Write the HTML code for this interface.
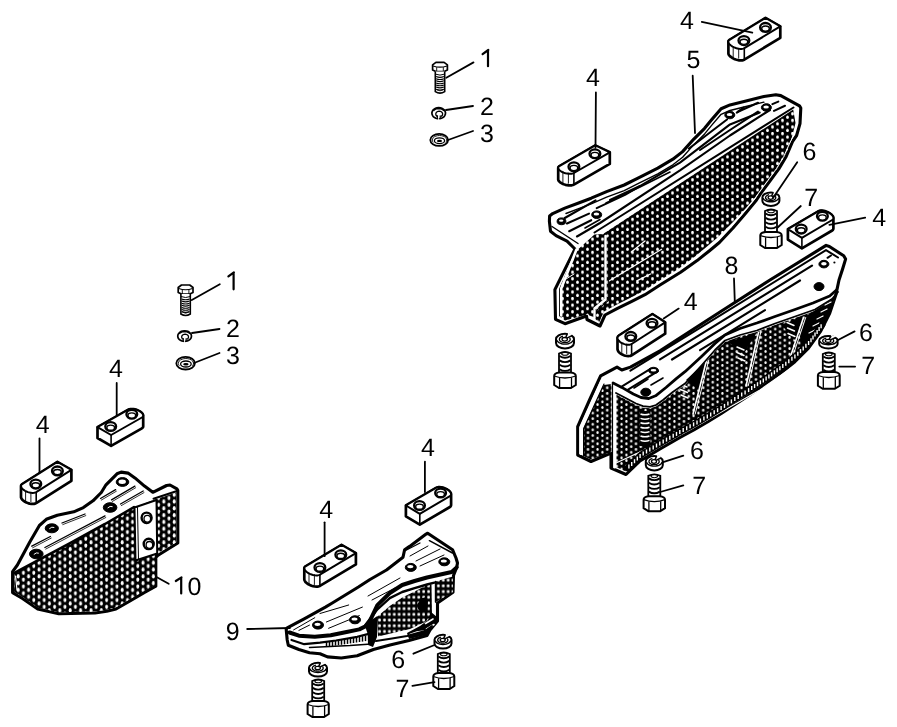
<!DOCTYPE html>
<html><head><meta charset="utf-8"><style>
html,body{margin:0;padding:0;background:#fff;overflow:hidden;width:897px;height:727px;}
svg{display:block}
text{font-family:"Liberation Sans",sans-serif;font-size:25px;fill:#000}
.t{opacity:0.999}
svg text{text-rendering:geometricPrecision}
</style></head><body>
<svg width="897" height="727" viewBox="0 0 897 727">
<defs>
<pattern id="mesh" width="10" height="6.6" patternUnits="userSpaceOnUse">
<rect width="10" height="6.6" fill="#000"/><ellipse cx="2.5" cy="1.65" rx="1.35" ry="1.75" fill="#fff"/><ellipse cx="7.5" cy="4.95" rx="1.35" ry="1.75" fill="#fff"/><ellipse cx="7.5" cy="-1.65" rx="1.35" ry="1.75" fill="#fff"/><ellipse cx="2.5" cy="8.25" rx="1.35" ry="1.75" fill="#fff"/></pattern>
<pattern id="mesh2" width="10.4" height="6.8" patternUnits="userSpaceOnUse">
<rect width="10.4" height="6.8" fill="#000"/><ellipse cx="2.6" cy="1.7" rx="1.45" ry="2.1" fill="#fff"/><ellipse cx="7.8" cy="5.1" rx="1.45" ry="2.1" fill="#fff"/><ellipse cx="7.8" cy="-1.7" rx="1.45" ry="2.1" fill="#fff"/><ellipse cx="2.6" cy="8.5" rx="1.45" ry="2.1" fill="#fff"/></pattern>
<pattern id="mesh3" width="9.6" height="5.6" patternUnits="userSpaceOnUse">
<rect width="9.6" height="5.6" fill="#000"/><ellipse cx="2.4" cy="1.4" rx="1.15" ry="1.45" fill="#fff"/><ellipse cx="7.2" cy="4.2" rx="1.15" ry="1.45" fill="#fff"/><ellipse cx="7.2" cy="-1.4" rx="1.15" ry="1.45" fill="#fff"/><ellipse cx="2.4" cy="7" rx="1.15" ry="1.45" fill="#fff"/></pattern>
<pattern id="grid" width="4.9" height="5.7" patternUnits="userSpaceOnUse" patternTransform="translate(377 583)">
<rect width="4.9" height="5.7" fill="#000"/><rect x="1.3" y="1.4" width="2.5" height="2.8" rx="0.6" fill="#fff"/></pattern>
<filter id="nf" x="0" y="0" width="1" height="1"><feColorMatrix type="identity"/></filter>
</defs>
<rect width="897" height="727" fill="#fff"/>
<polygon points="549.4,221.3 549.6,216.0 552.7,213.6 564.8,208.1 578.0,203.2 591.2,198.2 606.6,191.6 624.2,185.0 638.5,177.8 657.8,168.2 672.9,159.2 682.6,151.6 693.6,139.3 704.6,128.3 711.6,119.8 721.1,108.7 730.0,104.9 747.0,100.7 763.9,96.5 775.8,94.8 780.8,95.6 799.5,105.8 800.8,108.0 800.0,123.6 796.6,135.5 792.8,141.0 786.2,156.5 778.8,168.9 769.7,181.3 760.6,193.6 756.5,200.0 745.0,214.0 733.0,228.0 719.4,242.5 709.5,250.7 697.1,260.6 680.6,272.2 660.0,285.0 645.0,294.7 631.3,301.6 617.5,308.4 605.0,315.0 600.0,326.0 587.0,319.5 586.5,316.0 565.0,323.7 555.5,319.3 554.9,289.6 575.0,249.0 567.0,241.1 556.0,235.6 550.5,231.2" fill="#fff" stroke="#000" stroke-width="3.1" stroke-linejoin="round" />
<polygon points="579.0,248.5 594.5,234.5 603.0,234.0 793.2,109.5 795.5,123.0 792.5,135.0 789.0,147.0 783.5,158.0 776.0,170.0 767.0,182.0 758.0,194.0 746.0,208.0 733.0,222.0 717.0,238.0 707.0,246.5 695.0,256.5 679.0,268.5 659.0,281.0 644.0,290.8 630.5,297.8 617.0,304.6 604.0,311.5 599.0,322.5 593.4,317.0 587.0,314.5 565.0,320.5 559.0,316.0 559.0,289.0 576.0,250.0" fill="url(#mesh)" stroke="none" stroke-width="0" stroke-linejoin="round" />
<polyline points="609.0,281.0 661.6,249.3" fill="none" stroke="#fff" stroke-width="1.2" stroke-linejoin="round" stroke-linecap="round" />
<polyline points="631.3,252.0 645.0,241.0" fill="none" stroke="#fff" stroke-width="1.3" stroke-linejoin="round" stroke-linecap="round" />
<polyline points="636.8,280.9 650.5,274.0" fill="none" stroke="#fff" stroke-width="1.3" stroke-linejoin="round" stroke-linecap="round" />
<polyline points="566.0,279.0 574.0,274.0" fill="none" stroke="#fff" stroke-width="1.0" stroke-linejoin="round" stroke-linecap="round" />
<polyline points="576.5,249.5 561.2,288.5 561.2,315.5" fill="none" stroke="#fff" stroke-width="2.6" stroke-linejoin="round" stroke-linecap="round" />
<polyline points="605.5,236.0 605.5,299.5 594.5,308.5 594.5,318.0" fill="none" stroke="#fff" stroke-width="2.4" stroke-linejoin="round" stroke-linecap="round" />
<polyline points="608.3,237.0 608.3,300.5 597.0,310.0" fill="none" stroke="#000" stroke-width="1.2" stroke-linejoin="round" stroke-linecap="round" />
<polyline points="795.3,111.0 797.2,123.3 793.8,135.3 790.2,142.0 783.7,156.6 776.5,168.5 767.6,180.7 758.6,193.0 754.5,199.3 743.5,212.5 731.5,226.3 718.0,240.4 708.2,248.3 695.8,258.4 679.4,269.9 659.0,282.3 644.0,292.0" fill="none" stroke="#fff" stroke-width="1.0" stroke-linejoin="round" stroke-linecap="round" />
<polyline points="552.0,226.5 578.0,243.5" fill="none" stroke="#000" stroke-width="1.4" stroke-linejoin="round" stroke-linecap="round" />
<polyline points="594.5,232.5 793.5,107.5" fill="none" stroke="#000" stroke-width="2.0" stroke-linejoin="round" stroke-linecap="round" />
<polyline points="577.0,236.5 600.0,223.0 680.0,170.3 730.0,135.5 770.0,110.0" fill="none" stroke="#000" stroke-width="2.1" stroke-linejoin="round" stroke-linecap="round" />
<polyline points="596.7,208.1 625.0,194.9 680.0,162.7 730.0,124.4 759.7,112.6" fill="none" stroke="#000" stroke-width="2.1" stroke-linejoin="round" stroke-linecap="round" />
<polyline points="700.0,150.0 730.0,130.0 758.0,111.7" fill="none" stroke="#000" stroke-width="2.1" stroke-linejoin="round" stroke-linecap="round" />
<polyline points="569.2,231.2 591.2,220.2" fill="none" stroke="#000" stroke-width="2.1" stroke-linejoin="round" stroke-linecap="round" />
<polyline points="567.0,223.5 589.0,213.6" fill="none" stroke="#000" stroke-width="2.1" stroke-linejoin="round" stroke-linecap="round" />
<polyline points="564.8,218.0 595.6,200.4" fill="none" stroke="#000" stroke-width="2.1" stroke-linejoin="round" stroke-linecap="round" />
<polyline points="689.0,148.5 727.0,119.5" fill="none" stroke="#000" stroke-width="2.1" stroke-linejoin="round" stroke-linecap="round" />
<polyline points="738.0,111.7 758.0,102.8" fill="none" stroke="#000" stroke-width="2.1" stroke-linejoin="round" stroke-linecap="round" />
<polyline points="736.8,112.6 743.6,107.5" fill="none" stroke="#000" stroke-width="2.1" stroke-linejoin="round" stroke-linecap="round" />
<polyline points="774.0,110.9 785.0,105.8" fill="none" stroke="#000" stroke-width="2.1" stroke-linejoin="round" stroke-linecap="round" />
<polyline points="772.4,104.1 778.3,101.6" fill="none" stroke="#000" stroke-width="2.1" stroke-linejoin="round" stroke-linecap="round" />
<polyline points="610.0,200.0 640.0,186.0" fill="none" stroke="#000" stroke-width="2.1" stroke-linejoin="round" stroke-linecap="round" />
<polyline points="566.0,213.5 578.0,208.8 591.2,203.8 606.6,197.2 624.2,190.6 638.5,183.4 657.8,173.8 672.9,164.8 682.6,157.2 693.6,144.9 704.6,133.9 711.6,125.4 721.1,114.3 730.0,110.5 747.0,106.3 763.9,102.1" fill="none" stroke="#000" stroke-width="1.4" stroke-linejoin="round" stroke-linecap="round" />
<polyline points="606.0,203.0 640.0,187.0 670.0,172.0" fill="none" stroke="#000" stroke-width="1.6" stroke-linejoin="round" stroke-linecap="round" />
<polyline points="585.0,228.0 600.0,219.5" fill="none" stroke="#000" stroke-width="1.6" stroke-linejoin="round" stroke-linecap="round" />
<ellipse cx="561.5" cy="221.3" rx="4.4" ry="3.4" fill="#000" stroke="#000" stroke-width="1" transform="rotate(0 561.5 221.3)"/>
<ellipse cx="561.2" cy="220.70000000000002" rx="2.2" ry="1.1" fill="#fff" stroke="none" stroke-width="0" transform="rotate(0 561.2 220.70000000000002)"/>
<ellipse cx="596.7" cy="214.7" rx="5" ry="3.8" fill="#000" stroke="#000" stroke-width="1" transform="rotate(0 596.7 214.7)"/>
<ellipse cx="596.4000000000001" cy="214.1" rx="2.8" ry="1.5" fill="#fff" stroke="none" stroke-width="0" transform="rotate(0 596.4000000000001 214.1)"/>
<ellipse cx="729.8" cy="115" rx="5" ry="3.8" fill="#000" stroke="#000" stroke-width="1" transform="rotate(0 729.8 115)"/>
<ellipse cx="729.5" cy="114.4" rx="2.8" ry="1.5" fill="#fff" stroke="none" stroke-width="0" transform="rotate(0 729.5 114.4)"/>
<ellipse cx="766.4" cy="107.5" rx="5" ry="3.8" fill="#000" stroke="#000" stroke-width="1" transform="rotate(0 766.4 107.5)"/>
<ellipse cx="766.1" cy="106.9" rx="2.8" ry="1.5" fill="#fff" stroke="none" stroke-width="0" transform="rotate(0 766.1 106.9)"/>
<polygon points="600.6,375.8 617.0,367.1 621.8,370.0 630.4,367.1 660.0,350.8 720.0,312.0 770.0,280.0 826.1,245.4 829.4,246.5 843.7,255.8 845.6,259.1 842.6,269.0 839.0,280.0 835.8,295.1 829.7,313.3 820.6,331.4 808.5,348.1 794.9,361.7 779.8,373.8 763.2,385.9 748.8,395.5 735.0,404.5 721.3,413.5 707.5,422.0 693.8,430.0 680.0,437.5 660.0,449.0 640.0,461.0 626.0,474.5 611.0,468.0 611.0,453.0 591.0,461.5 577.7,455.0 577.7,426.6 590.0,399.0" fill="#fff" stroke="#000" stroke-width="3.1" stroke-linejoin="round" />
<polygon points="616.0,394.5 625.6,399.5 636.0,405.0 643.0,407.7 650.0,408.3 656.0,406.5 663.0,401.5 672.8,393.5 685.0,385.0 701.0,367.5 715.0,351.5 725.0,342.0 740.0,336.5 756.8,332.0 775.0,325.0 795.0,318.0 815.0,311.0 832.0,300.5 838.0,293.5 834.0,300.0 828.0,314.0 819.0,331.0 807.5,347.0 794.0,360.0 779.0,372.0 762.5,384.0 748.0,393.5 734.5,402.5 721.0,411.5 707.0,420.0 693.5,428.0 680.0,435.5 660.0,447.0 640.0,459.0 626.0,471.5 616.0,467.0 616.0,396.0" fill="url(#mesh3)" stroke="none" stroke-width="0" stroke-linejoin="round" />
<polygon points="686.0,380.0 706.0,361.6 699.0,390.0" fill="#000" stroke="none" stroke-width="0" stroke-linejoin="round" />
<polygon points="728.0,342.0 756.8,332.5 744.0,353.0" fill="#000" stroke="none" stroke-width="0" stroke-linejoin="round" />
<polygon points="781.0,324.5 803.0,317.5 795.0,340.0" fill="#000" stroke="none" stroke-width="0" stroke-linejoin="round" />
<polygon points="805.0,316.5 830.0,301.0 836.0,295.0 830.0,312.0 821.0,329.0 810.0,345.0 802.0,352.0 800.0,336.0" fill="#000" stroke="none" stroke-width="0" stroke-linejoin="round" />
<polyline points="706.6,360.0 693.0,414.0" fill="none" stroke="#fff" stroke-width="1.6" stroke-linejoin="round" stroke-linecap="round" />
<polyline points="708.8,360.0 695.2,414.0" fill="none" stroke="#fff" stroke-width="1.0" stroke-linejoin="round" stroke-linecap="round" />
<polyline points="758.5,332.5 746.0,386.0" fill="none" stroke="#fff" stroke-width="1.6" stroke-linejoin="round" stroke-linecap="round" />
<polyline points="760.7,332.5 748.2,386.0" fill="none" stroke="#fff" stroke-width="1.0" stroke-linejoin="round" stroke-linecap="round" />
<polyline points="803.5,317.5 790.0,358.0" fill="none" stroke="#fff" stroke-width="1.6" stroke-linejoin="round" stroke-linecap="round" />
<polyline points="805.7,317.5 792.2,358.0" fill="none" stroke="#fff" stroke-width="1.0" stroke-linejoin="round" stroke-linecap="round" />
<polyline points="616.0,463.0 640.0,452.0 700.0,424.0 760.0,390.0 800.0,362.0 830.0,330.0" fill="none" stroke="#fff" stroke-width="1.2" stroke-linejoin="round" stroke-linecap="round" />
<polyline points="737.0,347.0 744.0,350.0" fill="none" stroke="#fff" stroke-width="1.5" stroke-linejoin="round" stroke-linecap="round" />
<polyline points="737.0,352.5 744.0,355.5" fill="none" stroke="#fff" stroke-width="1.5" stroke-linejoin="round" stroke-linecap="round" />
<polyline points="738.0,358.0 745.0,361.0" fill="none" stroke="#fff" stroke-width="1.5" stroke-linejoin="round" stroke-linecap="round" />
<polyline points="787.0,322.5 794.0,325.5" fill="none" stroke="#fff" stroke-width="1.5" stroke-linejoin="round" stroke-linecap="round" />
<polyline points="787.5,328.0 794.5,331.0" fill="none" stroke="#fff" stroke-width="1.5" stroke-linejoin="round" stroke-linecap="round" />
<polyline points="788.0,333.5 795.0,336.5" fill="none" stroke="#fff" stroke-width="1.5" stroke-linejoin="round" stroke-linecap="round" />
<polyline points="680.0,384.0 687.0,387.0" fill="none" stroke="#fff" stroke-width="1.5" stroke-linejoin="round" stroke-linecap="round" />
<polyline points="680.5,389.5 687.5,392.5" fill="none" stroke="#fff" stroke-width="1.5" stroke-linejoin="round" stroke-linecap="round" />
<polyline points="681.0,395.0 688.0,398.0" fill="none" stroke="#fff" stroke-width="1.5" stroke-linejoin="round" stroke-linecap="round" />
<polyline points="809.0,333.0 815.0,330.0" fill="none" stroke="#fff" stroke-width="1.2" stroke-linejoin="round" stroke-linecap="round" />
<polyline points="813.0,326.0 819.0,323.0" fill="none" stroke="#fff" stroke-width="1.2" stroke-linejoin="round" stroke-linecap="round" />
<polyline points="817.0,319.0 823.0,316.0" fill="none" stroke="#fff" stroke-width="1.2" stroke-linejoin="round" stroke-linecap="round" />
<polyline points="821.0,312.0 827.0,309.0" fill="none" stroke="#fff" stroke-width="1.2" stroke-linejoin="round" stroke-linecap="round" />
<polyline points="825.0,305.0 831.0,302.0" fill="none" stroke="#fff" stroke-width="1.2" stroke-linejoin="round" stroke-linecap="round" />
<rect x="639.5" y="411" width="11" height="35" fill="#000"/>
<path d="M640.5,414.0 Q645,415.6 649.5,414.0" fill="none" stroke="#fff" stroke-width="1.5"/>
<path d="M640.5,418.4 Q645,420.0 649.5,418.4" fill="none" stroke="#fff" stroke-width="1.5"/>
<path d="M640.5,422.8 Q645,424.4 649.5,422.8" fill="none" stroke="#fff" stroke-width="1.5"/>
<path d="M640.5,427.2 Q645,428.8 649.5,427.2" fill="none" stroke="#fff" stroke-width="1.5"/>
<path d="M640.5,431.6 Q645,433.2 649.5,431.6" fill="none" stroke="#fff" stroke-width="1.5"/>
<path d="M640.5,436.0 Q645,437.6 649.5,436.0" fill="none" stroke="#fff" stroke-width="1.5"/>
<path d="M640.5,440.4 Q645,442.0 649.5,440.4" fill="none" stroke="#fff" stroke-width="1.5"/>
<polygon points="583.6,428.0 603.5,385.0 611.5,384.0 611.5,452.0 591.0,459.5 583.6,456.0" fill="url(#mesh3)" stroke="none" stroke-width="0" stroke-linejoin="round" />
<polyline points="601.8,381.5 581.0,428.0 581.0,453.5" fill="none" stroke="#fff" stroke-width="3.2" stroke-linejoin="round" stroke-linecap="round" />
<polyline points="604.0,384.0 583.6,428.8 583.6,455.5" fill="none" stroke="#000" stroke-width="1.2" stroke-linejoin="round" stroke-linecap="round" />
<polyline points="614.6,385.0 614.6,466.5" fill="none" stroke="#fff" stroke-width="3.8" stroke-linejoin="round" stroke-linecap="round" />
<polyline points="612.5,384.0 612.5,468.0" fill="none" stroke="#000" stroke-width="1.2" stroke-linejoin="round" stroke-linecap="round" />
<polyline points="613.1,383.0 621.8,387.4 633.3,394.0 641.0,397.5 648.8,398.5 655.6,395.8 666.0,387.5 676.3,378.6 685.0,371.7 701.0,357.0 715.0,343.5 725.0,335.0 740.0,328.5 756.8,323.0 775.0,316.5 795.0,309.5 813.0,303.0 829.7,296.0 836.5,290.0" fill="none" stroke="#000" stroke-width="2.8" stroke-linejoin="round" stroke-linecap="round" />
<polyline points="616.0,393.0 625.6,398.0 636.0,403.5 643.0,406.2 650.0,406.8 656.0,405.0 663.0,400.0 672.8,392.0 685.0,383.5 701.0,366.0 715.0,350.0 725.0,340.5 740.0,335.0 756.8,330.5 775.0,323.5 795.0,316.5 815.0,309.5 832.0,299.0 838.0,292.0" fill="none" stroke="#000" stroke-width="1.8" stroke-linejoin="round" stroke-linecap="round" />
<polyline points="630.4,370.7 700.0,327.8 826.0,250.1 838.0,257.5" fill="none" stroke="#000" stroke-width="2.0" stroke-linejoin="round" stroke-linecap="round" />
<polyline points="660.0,359.4 812.0,265.6" fill="none" stroke="#000" stroke-width="2.2" stroke-linejoin="round" stroke-linecap="round" />
<polyline points="672.0,359.5 800.0,280.5" fill="none" stroke="#000" stroke-width="2.2" stroke-linejoin="round" stroke-linecap="round" />
<polyline points="700.0,350.2 765.0,310.1" fill="none" stroke="#000" stroke-width="2.0" stroke-linejoin="round" stroke-linecap="round" />
<polyline points="622.0,386.3 650.0,369.1" fill="none" stroke="#000" stroke-width="2.0" stroke-linejoin="round" stroke-linecap="round" />
<polyline points="628.0,389.6 658.0,371.1" fill="none" stroke="#000" stroke-width="2.0" stroke-linejoin="round" stroke-linecap="round" />
<polyline points="634.0,388.0 648.0,379.0" fill="none" stroke="#000" stroke-width="1.6" stroke-linejoin="round" stroke-linecap="round" />
<polyline points="827.5,257.8 831.0,255.5" fill="none" stroke="#000" stroke-width="2.0" stroke-linejoin="round" stroke-linecap="round" />
<ellipse cx="834.4" cy="262.4" rx="1.1" ry="1.0" fill="#000" stroke="none" stroke-width="0" transform="rotate(0 834.4 262.4)"/>
<polyline points="651.0,385.0 663.0,378.0" fill="none" stroke="#000" stroke-width="1.6" stroke-linejoin="round" stroke-linecap="round" />
<ellipse cx="823.9" cy="264.1" rx="5" ry="3.8" fill="#000" stroke="#000" stroke-width="1" transform="rotate(0 823.9 264.1)"/>
<ellipse cx="823.9" cy="263.8" rx="2.8" ry="1.7999999999999998" fill="#fff" stroke="none" stroke-width="0" transform="rotate(0 823.9 263.8)"/>
<ellipse cx="819" cy="286.6" rx="5" ry="4" fill="#000" stroke="#000" stroke-width="1" transform="rotate(0 819 286.6)"/>
<ellipse cx="653.5" cy="370.5" rx="5" ry="3.2" fill="#000" stroke="#000" stroke-width="1" transform="rotate(0 653.5 370.5)"/>
<ellipse cx="653.5" cy="370.2" rx="2.8" ry="1.2000000000000002" fill="#fff" stroke="none" stroke-width="0" transform="rotate(0 653.5 370.2)"/>
<ellipse cx="645.8" cy="392.2" rx="5" ry="4" fill="#000" stroke="#000" stroke-width="1" transform="rotate(0 645.8 392.2)"/>
<polyline points="627.5,468.0 641.5,454.5 661.5,442.5 681.5,431.0 695.3,423.5 709.0,415.5 722.8,407.0 736.5,398.0 750.3,389.0 764.7,379.4 781.3,367.3 796.4,355.2 810.0,341.6 822.1,324.9" fill="none" stroke="#000" stroke-width="6.5" stroke-linejoin="round" stroke-linecap="round" />
<line x1="628.9" y1="464.6" x2="628.9" y2="468.6" stroke="#fff" stroke-width="1.4"/>
<line x1="631.7" y1="461.9" x2="631.7" y2="465.9" stroke="#fff" stroke-width="1.4"/>
<line x1="634.5" y1="459.2" x2="634.5" y2="463.2" stroke="#fff" stroke-width="1.4"/>
<line x1="637.3" y1="456.6" x2="637.3" y2="460.6" stroke="#fff" stroke-width="1.4"/>
<line x1="640.1" y1="453.9" x2="640.1" y2="457.9" stroke="#fff" stroke-width="1.4"/>
<line x1="643.2" y1="451.5" x2="643.2" y2="455.5" stroke="#fff" stroke-width="1.4"/>
<line x1="646.5" y1="449.5" x2="646.5" y2="453.5" stroke="#fff" stroke-width="1.4"/>
<line x1="649.8" y1="447.5" x2="649.8" y2="451.5" stroke="#fff" stroke-width="1.4"/>
<line x1="653.2" y1="445.5" x2="653.2" y2="449.5" stroke="#fff" stroke-width="1.4"/>
<line x1="656.5" y1="443.5" x2="656.5" y2="447.5" stroke="#fff" stroke-width="1.4"/>
<line x1="659.8" y1="441.5" x2="659.8" y2="445.5" stroke="#fff" stroke-width="1.4"/>
<line x1="663.2" y1="439.5" x2="663.2" y2="443.5" stroke="#fff" stroke-width="1.4"/>
<line x1="666.5" y1="437.6" x2="666.5" y2="441.6" stroke="#fff" stroke-width="1.4"/>
<line x1="669.8" y1="435.7" x2="669.8" y2="439.7" stroke="#fff" stroke-width="1.4"/>
<line x1="673.2" y1="433.8" x2="673.2" y2="437.8" stroke="#fff" stroke-width="1.4"/>
<line x1="676.5" y1="431.9" x2="676.5" y2="435.9" stroke="#fff" stroke-width="1.4"/>
<line x1="679.8" y1="430.0" x2="679.8" y2="434.0" stroke="#fff" stroke-width="1.4"/>
<line x1="683.2" y1="428.1" x2="683.2" y2="432.1" stroke="#fff" stroke-width="1.4"/>
<line x1="686.7" y1="426.2" x2="686.7" y2="430.2" stroke="#fff" stroke-width="1.4"/>
<line x1="690.1" y1="424.3" x2="690.1" y2="428.3" stroke="#fff" stroke-width="1.4"/>
<line x1="693.6" y1="422.4" x2="693.6" y2="426.4" stroke="#fff" stroke-width="1.4"/>
<line x1="697.0" y1="420.5" x2="697.0" y2="424.5" stroke="#fff" stroke-width="1.4"/>
<line x1="700.4" y1="418.5" x2="700.4" y2="422.5" stroke="#fff" stroke-width="1.4"/>
<line x1="703.9" y1="416.5" x2="703.9" y2="420.5" stroke="#fff" stroke-width="1.4"/>
<line x1="707.3" y1="414.5" x2="707.3" y2="418.5" stroke="#fff" stroke-width="1.4"/>
<line x1="710.7" y1="412.4" x2="710.7" y2="416.4" stroke="#fff" stroke-width="1.4"/>
<line x1="714.2" y1="410.3" x2="714.2" y2="414.3" stroke="#fff" stroke-width="1.4"/>
<line x1="717.6" y1="408.2" x2="717.6" y2="412.2" stroke="#fff" stroke-width="1.4"/>
<line x1="721.1" y1="406.1" x2="721.1" y2="410.1" stroke="#fff" stroke-width="1.4"/>
<line x1="724.5" y1="403.9" x2="724.5" y2="407.9" stroke="#fff" stroke-width="1.4"/>
<line x1="727.9" y1="401.6" x2="727.9" y2="405.6" stroke="#fff" stroke-width="1.4"/>
<line x1="731.4" y1="399.4" x2="731.4" y2="403.4" stroke="#fff" stroke-width="1.4"/>
<line x1="734.8" y1="397.1" x2="734.8" y2="401.1" stroke="#fff" stroke-width="1.4"/>
<line x1="738.2" y1="394.9" x2="738.2" y2="398.9" stroke="#fff" stroke-width="1.4"/>
<line x1="741.7" y1="392.6" x2="741.7" y2="396.6" stroke="#fff" stroke-width="1.4"/>
<line x1="745.1" y1="390.4" x2="745.1" y2="394.4" stroke="#fff" stroke-width="1.4"/>
<line x1="748.6" y1="388.1" x2="748.6" y2="392.1" stroke="#fff" stroke-width="1.4"/>
<line x1="751.7" y1="386.0" x2="751.7" y2="390.0" stroke="#fff" stroke-width="1.4"/>
<line x1="754.6" y1="384.1" x2="754.6" y2="388.1" stroke="#fff" stroke-width="1.4"/>
<line x1="757.5" y1="382.2" x2="757.5" y2="386.2" stroke="#fff" stroke-width="1.4"/>
<line x1="760.4" y1="380.3" x2="760.4" y2="384.3" stroke="#fff" stroke-width="1.4"/>
<line x1="763.3" y1="378.4" x2="763.3" y2="382.4" stroke="#fff" stroke-width="1.4"/>
<line x1="766.1" y1="376.4" x2="766.1" y2="380.4" stroke="#fff" stroke-width="1.4"/>
<line x1="768.9" y1="374.4" x2="768.9" y2="378.4" stroke="#fff" stroke-width="1.4"/>
<line x1="771.6" y1="372.4" x2="771.6" y2="376.4" stroke="#fff" stroke-width="1.4"/>
<line x1="774.4" y1="370.3" x2="774.4" y2="374.3" stroke="#fff" stroke-width="1.4"/>
<line x1="777.1" y1="368.3" x2="777.1" y2="372.3" stroke="#fff" stroke-width="1.4"/>
<line x1="779.9" y1="366.3" x2="779.9" y2="370.3" stroke="#fff" stroke-width="1.4"/>
<line x1="782.8" y1="364.1" x2="782.8" y2="368.1" stroke="#fff" stroke-width="1.4"/>
<line x1="785.8" y1="361.7" x2="785.8" y2="365.7" stroke="#fff" stroke-width="1.4"/>
<line x1="788.8" y1="359.2" x2="788.8" y2="363.2" stroke="#fff" stroke-width="1.4"/>
<line x1="791.9" y1="356.8" x2="791.9" y2="360.8" stroke="#fff" stroke-width="1.4"/>
<line x1="794.9" y1="354.4" x2="794.9" y2="358.4" stroke="#fff" stroke-width="1.4"/>
<line x1="797.8" y1="351.8" x2="797.8" y2="355.8" stroke="#fff" stroke-width="1.4"/>
<line x1="800.5" y1="349.1" x2="800.5" y2="353.1" stroke="#fff" stroke-width="1.4"/>
<line x1="803.2" y1="346.4" x2="803.2" y2="350.4" stroke="#fff" stroke-width="1.4"/>
<line x1="805.9" y1="343.7" x2="805.9" y2="347.7" stroke="#fff" stroke-width="1.4"/>
<line x1="808.6" y1="341.0" x2="808.6" y2="345.0" stroke="#fff" stroke-width="1.4"/>
<line x1="811.0" y1="338.2" x2="811.0" y2="342.2" stroke="#fff" stroke-width="1.4"/>
<line x1="813.0" y1="335.4" x2="813.0" y2="339.4" stroke="#fff" stroke-width="1.4"/>
<line x1="815.0" y1="332.6" x2="815.0" y2="336.6" stroke="#fff" stroke-width="1.4"/>
<line x1="817.1" y1="329.9" x2="817.1" y2="333.9" stroke="#fff" stroke-width="1.4"/>
<line x1="819.1" y1="327.1" x2="819.1" y2="331.1" stroke="#fff" stroke-width="1.4"/>
<line x1="821.1" y1="324.3" x2="821.1" y2="328.3" stroke="#fff" stroke-width="1.4"/>
<polygon points="12.6,571.6 17.4,565.0 29.8,542.0 39.4,525.5 46.3,519.3 57.3,515.2 73.8,511.8 83.4,507.6 93.0,500.8 101.3,492.5 106.0,484.8 117.0,473.8 121.1,472.1 128.0,473.1 134.9,477.9 144.5,486.1 152.8,492.3 166.6,485.5 170.0,485.0 176.9,488.9 177.8,490.3 177.8,543.0 158.1,555.2 155.8,557.5 155.8,586.2 144.1,592.6 130.0,600.8 116.0,609.0 106.7,611.3 95.0,613.0 58.8,613.7 37.7,609.0 22.5,598.5 12.6,592.6" fill="#fff" stroke="#000" stroke-width="3.1" stroke-linejoin="round" />
<polygon points="14.5,573.5 70.5,543.3 105.0,524.5 134.0,507.5 155.0,499.5 176.2,492.5 176.2,542.5 157.0,553.5 154.5,585.5 143.5,591.5 129.5,599.5 115.5,607.5 106.5,609.8 95.0,611.5 58.8,612.2 38.0,607.7 23.0,597.3 14.0,591.8" fill="url(#mesh2)" stroke="none" stroke-width="0" stroke-linejoin="round" />
<polygon points="134.5,507.5 156.5,500.0 157.2,553.5 135.5,560.5" fill="#fff" stroke="#000" stroke-width="2.0" stroke-linejoin="round" />
<polyline points="137.5,507.5 138.5,559.0" fill="none" stroke="#000" stroke-width="1.0" stroke-linejoin="round" stroke-linecap="round" />
<ellipse cx="146.6" cy="517.8" rx="5.0" ry="5.2" fill="#fff" stroke="#000" stroke-width="2.4" transform="rotate(0 146.6 517.8)"/>
<ellipse cx="147.29999999999998" cy="518.8" rx="3.3" ry="3.4" fill="#fff" stroke="#000" stroke-width="1.3" transform="rotate(0 147.29999999999998 518.8)"/>
<ellipse cx="148.7" cy="543.9" rx="5.0" ry="5.2" fill="#fff" stroke="#000" stroke-width="2.4" transform="rotate(0 148.7 543.9)"/>
<ellipse cx="149.39999999999998" cy="544.9" rx="3.3" ry="3.4" fill="#fff" stroke="#000" stroke-width="1.3" transform="rotate(0 149.39999999999998 544.9)"/>
<polyline points="13.5,573.5 70.5,542.8 105.0,524.0 134.0,507.2" fill="none" stroke="#000" stroke-width="2.6" stroke-linejoin="round" stroke-linecap="round" />
<polyline points="153.5,498.7 177.0,491.0" fill="none" stroke="#000" stroke-width="2.0" stroke-linejoin="round" stroke-linecap="round" />
<polyline points="15.5,576.0 17.0,590.0" fill="none" stroke="#fff" stroke-width="1.2" stroke-linejoin="round" stroke-linecap="round" />
<polyline points="44.9,547.5 105.0,515.9" fill="none" stroke="#000" stroke-width="1.3" stroke-linejoin="round" stroke-linecap="round" />
<polyline points="45.7,549.1 105.8,517.5" fill="none" stroke="#000" stroke-width="0.8" stroke-linejoin="round" stroke-linecap="round" />
<polyline points="31.8,546.2 50.4,536.5" fill="none" stroke="#000" stroke-width="1.3" stroke-linejoin="round" stroke-linecap="round" />
<polyline points="32.6,547.8 51.2,538.1" fill="none" stroke="#000" stroke-width="0.8" stroke-linejoin="round" stroke-linecap="round" />
<polyline points="100.5,498.5 115.6,489.6" fill="none" stroke="#000" stroke-width="1.3" stroke-linejoin="round" stroke-linecap="round" />
<polyline points="101.3,500.1 116.4,491.2" fill="none" stroke="#000" stroke-width="0.8" stroke-linejoin="round" stroke-linecap="round" />
<polyline points="111.5,499.9 134.9,486.1" fill="none" stroke="#000" stroke-width="1.3" stroke-linejoin="round" stroke-linecap="round" />
<polyline points="112.3,501.5 135.7,487.7" fill="none" stroke="#000" stroke-width="0.8" stroke-linejoin="round" stroke-linecap="round" />
<polyline points="120.5,504.0 143.2,491.0" fill="none" stroke="#000" stroke-width="1.3" stroke-linejoin="round" stroke-linecap="round" />
<polyline points="121.3,505.6 144.0,492.6" fill="none" stroke="#000" stroke-width="0.8" stroke-linejoin="round" stroke-linecap="round" />
<polyline points="62.0,523.0 85.0,514.0" fill="none" stroke="#000" stroke-width="1.3" stroke-linejoin="round" stroke-linecap="round" />
<polyline points="62.8,524.6 85.8,515.6" fill="none" stroke="#000" stroke-width="0.8" stroke-linejoin="round" stroke-linecap="round" />
<ellipse cx="36.3" cy="554" rx="6.8" ry="4.8" fill="#000" stroke="#000" stroke-width="1" transform="rotate(0 36.3 554)"/>
<path d="M33.8,554.5 Q36.3,552.0 38.8,553.2" fill="none" stroke="#fff" stroke-width="1.0"/>
<ellipse cx="51.8" cy="528.3" rx="6.6" ry="4.5" fill="#000" stroke="#000" stroke-width="1" transform="rotate(0 51.8 528.3)"/>
<path d="M49.3,528.8 Q51.8,526.3 54.3,527.5" fill="none" stroke="#fff" stroke-width="1.0"/>
<ellipse cx="110.1" cy="507.5" rx="6.8" ry="4.8" fill="#000" stroke="#000" stroke-width="1" transform="rotate(0 110.1 507.5)"/>
<path d="M107.6,508.0 Q110.1,505.5 112.6,506.7" fill="none" stroke="#fff" stroke-width="1.0"/>
<ellipse cx="122.5" cy="482" rx="6.3" ry="4.4" fill="#000" stroke="#000" stroke-width="1" transform="rotate(0 122.5 482)"/>
<ellipse cx="122.2" cy="481.8" rx="3.6999999999999997" ry="2.2" fill="#fff" stroke="none" stroke-width="0" transform="rotate(0 122.2 481.8)"/>
<polygon points="287.2,627.8 304.2,618.8 325.4,607.1 332.3,603.0 358.4,587.0 370.0,579.5 386.5,570.0 403.0,557.2 404.6,549.7 409.6,546.4 426.1,534.1 427.7,533.2 452.5,549.7 456.0,558.0 457.5,563.0 456.7,567.4 453.5,575.5 453.0,592.2 437.5,603.0 437.5,621.0 430.0,630.0 427.0,635.6 409.0,640.5 390.0,645.0 373.4,649.5 357.2,655.8 341.3,658.0 327.5,656.9 320.0,653.7 309.5,652.7 298.9,649.5 288.3,645.3 287.2,640.0 286.2,629.4" fill="#fff" stroke="#000" stroke-width="3.1" stroke-linejoin="round" />
<polygon points="377.0,617.0 377.4,616.5 389.8,606.0 402.2,597.5 414.6,591.5 427.0,585.0 431.5,584.5 432.0,615.7 425.0,622.0 410.0,629.0 395.0,632.5 378.0,636.5" fill="url(#grid)" stroke="none" stroke-width="0" stroke-linejoin="round" />
<polygon points="435.6,581.5 453.0,576.6 453.0,592.2 435.6,602.1" fill="url(#grid)" stroke="none" stroke-width="0" stroke-linejoin="round" />
<polyline points="435.6,581.5 435.6,602.1" fill="none" stroke="#000" stroke-width="1.6" stroke-linejoin="round" stroke-linecap="round" />
<polygon points="417.5,604.0 421.0,598.5 426.0,597.0 428.0,601.0 427.5,611.0 421.0,612.0 418.0,609.0" fill="#000" stroke="none" stroke-width="0" stroke-linejoin="round" />
<polygon points="431.0,612.0 437.0,617.0 437.0,621.0 430.0,629.5 426.0,635.0 409.0,639.0 407.0,633.0 420.0,626.0 428.0,620.0" fill="#000" stroke="none" stroke-width="0" stroke-linejoin="round" />
<polyline points="425.5,623.5 433.0,619.0" fill="none" stroke="#fff" stroke-width="1.6" stroke-linejoin="round" stroke-linecap="round" />
<polyline points="426.5,629.0 434.0,624.5" fill="none" stroke="#fff" stroke-width="1.6" stroke-linejoin="round" stroke-linecap="round" />
<polyline points="410.0,634.5 417.0,632.0 424.0,631.0" fill="none" stroke="#fff" stroke-width="1.6" stroke-linejoin="round" stroke-linecap="round" />
<polygon points="365.0,626.0 369.9,621.0 377.4,616.0 377.0,637.0 373.0,647.0 368.0,645.0 367.7,634.0" fill="#000" stroke="none" stroke-width="0" stroke-linejoin="round" />
<polyline points="376.0,641.0 392.0,638.5 407.0,636.0 425.0,631.0 432.0,626.0" fill="none" stroke="#000" stroke-width="2.0" stroke-linejoin="round" stroke-linecap="round" />
<polyline points="289.5,632.5 298.9,635.7 314.8,636.8 330.7,635.2 346.6,632.0 359.3,629.4 365.6,626.2 369.9,620.9 377.4,605.1 389.8,593.0 402.2,585.0 414.6,581.0 427.0,577.5 439.3,574.8 451.7,572.0 456.7,567.4" fill="none" stroke="#000" stroke-width="4.0" stroke-linejoin="round" stroke-linecap="round" />
<polyline points="365.0,625.4 377.4,609.3 389.8,598.1 402.2,592.0 414.6,588.2 427.0,584.5 434.4,582.6" fill="none" stroke="#000" stroke-width="2.4" stroke-linejoin="round" stroke-linecap="round" />
<polyline points="291.5,640.0 304.2,644.2 320.0,642.6 336.0,640.5 357.2,636.8 367.7,634.1" fill="none" stroke="#000" stroke-width="2.2" stroke-linejoin="round" stroke-linecap="round" />
<polyline points="309.5,647.4 330.0,646.5 350.0,645.5 367.7,644.2" fill="none" stroke="#000" stroke-width="1.5" stroke-linejoin="round" stroke-linecap="round" />
<line x1="326.5" y1="641.5" x2="326.5" y2="647.0" stroke="#000" stroke-width="1.5"/>
<line x1="329.5" y1="641.0" x2="329.5" y2="646.5" stroke="#000" stroke-width="1.5"/>
<line x1="332.5" y1="640.6" x2="332.5" y2="646.1" stroke="#000" stroke-width="1.5"/>
<line x1="335.5" y1="640.1" x2="335.5" y2="645.6" stroke="#000" stroke-width="1.5"/>
<line x1="338.5" y1="639.7" x2="338.5" y2="645.2" stroke="#000" stroke-width="1.5"/>
<line x1="341.5" y1="639.2" x2="341.5" y2="644.8" stroke="#000" stroke-width="1.5"/>
<line x1="344.5" y1="638.8" x2="344.5" y2="644.3" stroke="#000" stroke-width="1.5"/>
<line x1="347.5" y1="638.4" x2="347.5" y2="643.9" stroke="#000" stroke-width="1.5"/>
<line x1="350.5" y1="637.9" x2="350.5" y2="643.4" stroke="#000" stroke-width="1.5"/>
<line x1="353.5" y1="637.5" x2="353.5" y2="643.0" stroke="#000" stroke-width="1.5"/>
<line x1="356.5" y1="637.0" x2="356.5" y2="642.5" stroke="#000" stroke-width="1.5"/>
<line x1="359.5" y1="636.5" x2="359.5" y2="642.0" stroke="#000" stroke-width="1.5"/>
<line x1="362.5" y1="636.1" x2="362.5" y2="641.6" stroke="#000" stroke-width="1.5"/>
<line x1="365.5" y1="635.6" x2="365.5" y2="641.1" stroke="#000" stroke-width="1.5"/>
<polyline points="429.4,540.7 452.5,553.0" fill="none" stroke="#000" stroke-width="1.5" stroke-linejoin="round" stroke-linecap="round" />
<polyline points="404.6,551.0 420.0,543.0" fill="none" stroke="#000" stroke-width="1.2" stroke-linejoin="round" stroke-linecap="round" />
<polyline points="298.9,630.4 309.5,625.1" fill="none" stroke="#000" stroke-width="1.0" stroke-linejoin="round" stroke-linecap="round" />
<polyline points="293.6,629.9 314.8,617.7" fill="none" stroke="#000" stroke-width="1.0" stroke-linejoin="round" stroke-linecap="round" />
<polyline points="320.0,613.5 348.7,605.0" fill="none" stroke="#000" stroke-width="1.0" stroke-linejoin="round" stroke-linecap="round" />
<polyline points="326.4,622.0 362.4,607.1" fill="none" stroke="#000" stroke-width="1.0" stroke-linejoin="round" stroke-linecap="round" />
<polyline points="328.6,628.3 359.3,615.6" fill="none" stroke="#000" stroke-width="1.0" stroke-linejoin="round" stroke-linecap="round" />
<polyline points="372.0,600.0 395.0,588.0" fill="none" stroke="#000" stroke-width="1.0" stroke-linejoin="round" stroke-linecap="round" />
<polyline points="410.0,556.0 428.0,546.0" fill="none" stroke="#000" stroke-width="1.0" stroke-linejoin="round" stroke-linecap="round" />
<polyline points="416.0,561.0 440.0,549.0" fill="none" stroke="#000" stroke-width="1.0" stroke-linejoin="round" stroke-linecap="round" />
<polyline points="420.0,566.0 444.0,555.0" fill="none" stroke="#000" stroke-width="1.0" stroke-linejoin="round" stroke-linecap="round" />
<polyline points="368.0,596.0 400.0,578.0" fill="none" stroke="#000" stroke-width="1.0" stroke-linejoin="round" stroke-linecap="round" />
<ellipse cx="318" cy="625.1" rx="5.5" ry="4" fill="#000" stroke="#000" stroke-width="1" transform="rotate(0 318 625.1)"/>
<ellipse cx="317.5" cy="624.3000000000001" rx="3" ry="1.6" fill="#fff" stroke="none" stroke-width="0" transform="rotate(0 317.5 624.3000000000001)"/>
<ellipse cx="355" cy="619.8" rx="5.5" ry="4" fill="#000" stroke="#000" stroke-width="1" transform="rotate(0 355 619.8)"/>
<ellipse cx="354.5" cy="619.0" rx="3" ry="1.6" fill="#fff" stroke="none" stroke-width="0" transform="rotate(0 354.5 619.0)"/>
<ellipse cx="410.8" cy="567.4" rx="5.5" ry="4" fill="#000" stroke="#000" stroke-width="1" transform="rotate(0 410.8 567.4)"/>
<ellipse cx="410.3" cy="566.6" rx="3" ry="1.6" fill="#fff" stroke="none" stroke-width="0" transform="rotate(0 410.3 566.6)"/>
<ellipse cx="444.3" cy="561.8" rx="5.5" ry="4" fill="#000" stroke="#000" stroke-width="1" transform="rotate(0 444.3 561.8)"/>
<ellipse cx="443.8" cy="561.0" rx="3" ry="1.6" fill="#fff" stroke="none" stroke-width="0" transform="rotate(0 443.8 561.0)"/>
<g><polygon points="728.4,42.0 728.4,41.1 728.8,40.4 729.5,39.8 765.5,17.9 780.3,26.3 780.3,37.8 744.3,59.7 743.3,60.1 742.1,60.4 740.7,60.4 739.1,60.3 737.5,60.0 735.8,59.5 734.1,58.9 732.6,58.1 731.3,57.2 730.1,56.3 729.2,55.3 728.6,54.4 728.4,53.5" fill="#fff" stroke="#000" stroke-width="2.7" stroke-linejoin="round"/><polygon points="744.3,48.2 780.3,26.3 765.5,17.9 729.5,39.8 728.8,40.4 728.4,41.1 728.4,42.0 728.6,42.9 729.2,43.8 730.1,44.8 731.3,45.7 732.6,46.6 734.2,47.4 735.8,48.0 737.5,48.5 739.1,48.8 740.7,48.9 742.1,48.9 743.3,48.6" fill="#fff" stroke="#000" stroke-width="2.0" stroke-linejoin="round"/><line x1="744.3" y1="48.2" x2="744.3" y2="59.7" stroke="#000" stroke-width="1.6"/><line x1="738.7" y1="47.9" x2="738.7" y2="58.7" stroke="#000" stroke-width="0.9"/><line x1="733.2" y1="47.5" x2="733.2" y2="58.7" stroke="#000" stroke-width="0.9"/><ellipse cx="743.9" cy="40.6" rx="5.4" ry="4.4" fill="#fff" stroke="#000" stroke-width="2.3"/><ellipse cx="743.9" cy="41.8" rx="3.8" ry="2.6" fill="#fff" stroke="#000" stroke-width="1.4"/><ellipse cx="765.5" cy="27.4" rx="5.4" ry="4.4" fill="#fff" stroke="#000" stroke-width="2.3"/><ellipse cx="765.5" cy="28.6" rx="3.8" ry="2.6" fill="#fff" stroke="#000" stroke-width="1.4"/></g>
<g><polygon points="558.2,168.1 558.3,167.3 558.7,166.7 559.4,166.1 595.3,145.4 609.8,152.3 609.8,163.9 573.9,184.6 572.9,185.0 571.7,185.3 570.3,185.4 568.7,185.4 567.1,185.1 565.4,184.8 563.8,184.3 562.3,183.7 561.0,182.9 559.9,182.1 559.0,181.3 558.5,180.5 558.2,179.7" fill="#fff" stroke="#000" stroke-width="2.7" stroke-linejoin="round"/><polygon points="573.9,173.0 609.8,152.3 595.3,145.4 559.4,166.1 558.7,166.7 558.3,167.3 558.2,168.1 558.5,168.9 559.0,169.7 559.9,170.5 561.0,171.3 562.3,172.0 563.8,172.7 565.4,173.2 567.1,173.5 568.7,173.8 570.3,173.8 571.7,173.7 572.9,173.4" fill="#fff" stroke="#000" stroke-width="2.0" stroke-linejoin="round"/><line x1="573.9" y1="173.0" x2="573.9" y2="184.6" stroke="#000" stroke-width="1.6"/><line x1="568.4" y1="172.7" x2="568.4" y2="183.6" stroke="#000" stroke-width="0.9"/><line x1="562.9" y1="172.3" x2="562.9" y2="183.6" stroke="#000" stroke-width="0.9"/><ellipse cx="573.9" cy="166.8" rx="5.4" ry="4.4" fill="#fff" stroke="#000" stroke-width="2.3"/><ellipse cx="573.9" cy="168.0" rx="3.8" ry="2.6" fill="#fff" stroke="#000" stroke-width="1.4"/><ellipse cx="594.9" cy="153.8" rx="5.4" ry="4.4" fill="#fff" stroke="#000" stroke-width="2.3"/><ellipse cx="594.9" cy="155.0" rx="3.8" ry="2.6" fill="#fff" stroke="#000" stroke-width="1.4"/></g>
<g><polygon points="787.9,229.1 818.2,211.3 819.2,210.9 820.4,210.7 821.8,210.6 823.3,210.8 824.9,211.1 826.5,211.7 828.1,212.3 829.5,213.1 830.8,214.0 831.9,215.0 832.7,216.0 833.2,216.9 833.4,217.9 833.4,228.4 833.3,229.2 832.9,229.9 832.2,230.5 801.9,248.3 787.9,239.6" fill="#fff" stroke="#000" stroke-width="2.7" stroke-linejoin="round"/><polygon points="787.9,229.1 801.9,237.8 832.2,220.0 832.9,219.4 833.3,218.7 833.4,217.9 833.2,216.9 832.7,216.0 831.9,215.0 830.8,214.0 829.5,213.1 828.1,212.3 826.5,211.6 824.9,211.1 823.3,210.8 821.8,210.6 820.4,210.7 819.2,210.9 818.2,211.3" fill="#fff" stroke="#000" stroke-width="2.0" stroke-linejoin="round"/><line x1="801.9" y1="237.8" x2="801.9" y2="248.3" stroke="#000" stroke-width="1.6"/><ellipse cx="801.2" cy="229.1" rx="5.4" ry="4.4" fill="#fff" stroke="#000" stroke-width="2.3"/><ellipse cx="801.2" cy="230.3" rx="3.8" ry="2.6" fill="#fff" stroke="#000" stroke-width="1.4"/><ellipse cx="822.4" cy="216.3" rx="5.4" ry="4.4" fill="#fff" stroke="#000" stroke-width="2.3"/><ellipse cx="822.4" cy="217.5" rx="3.8" ry="2.6" fill="#fff" stroke="#000" stroke-width="1.4"/></g>
<g><polygon points="617.5,337.9 617.7,337.1 618.1,336.3 618.8,335.7 652.4,314.1 665.2,322.4 665.2,333.7 631.6,355.3 630.7,355.8 629.5,356.0 628.2,356.1 626.8,356.0 625.3,355.7 623.8,355.2 622.3,354.6 621.0,353.9 619.8,353.0 618.9,352.1 618.1,351.1 617.7,350.1 617.5,349.2" fill="#fff" stroke="#000" stroke-width="2.7" stroke-linejoin="round"/><polygon points="631.6,344.0 665.2,322.4 652.4,314.1 618.8,335.7 618.1,336.3 617.7,337.1 617.5,337.9 617.7,338.8 618.1,339.8 618.9,340.8 619.8,341.7 621.0,342.6 622.3,343.3 623.8,343.9 625.3,344.4 626.8,344.7 628.2,344.8 629.5,344.7 630.7,344.4" fill="#fff" stroke="#000" stroke-width="2.0" stroke-linejoin="round"/><line x1="631.6" y1="344.0" x2="631.6" y2="355.3" stroke="#000" stroke-width="1.6"/><line x1="626.7" y1="343.6" x2="626.7" y2="354.3" stroke="#000" stroke-width="0.9"/><line x1="621.8" y1="343.3" x2="621.8" y2="354.3" stroke="#000" stroke-width="0.9"/><ellipse cx="630.8" cy="336.4" rx="5.4" ry="4.4" fill="#fff" stroke="#000" stroke-width="2.3"/><ellipse cx="630.8" cy="337.6" rx="3.8" ry="2.6" fill="#fff" stroke="#000" stroke-width="1.4"/><ellipse cx="652.0" cy="323.2" rx="5.4" ry="4.4" fill="#fff" stroke="#000" stroke-width="2.3"/><ellipse cx="652.0" cy="324.4" rx="3.8" ry="2.6" fill="#fff" stroke="#000" stroke-width="1.4"/></g>
<g><polygon points="97.5,427.2 128.3,409.7 129.3,409.3 130.5,409.1 131.9,409.0 133.4,409.1 134.9,409.4 136.5,409.8 138.0,410.4 139.4,411.1 140.7,411.9 141.7,412.8 142.5,413.7 143.0,414.6 143.2,415.5 143.2,426.3 143.1,427.1 142.6,427.7 141.9,428.3 111.1,445.8 97.5,438.0" fill="#fff" stroke="#000" stroke-width="2.7" stroke-linejoin="round"/><polygon points="97.5,427.2 111.1,435.0 141.9,417.5 142.6,416.9 143.0,416.3 143.2,415.5 143.0,414.6 142.5,413.7 141.7,412.8 140.7,411.9 139.4,411.1 138.0,410.4 136.5,409.8 134.9,409.4 133.4,409.1 131.9,409.0 130.5,409.1 129.3,409.3 128.3,409.7" fill="#fff" stroke="#000" stroke-width="2.0" stroke-linejoin="round"/><line x1="111.1" y1="435.0" x2="111.1" y2="445.8" stroke="#000" stroke-width="1.6"/><ellipse cx="110.7" cy="426.5" rx="5.4" ry="4.4" fill="#fff" stroke="#000" stroke-width="2.3"/><ellipse cx="110.7" cy="427.7" rx="3.8" ry="2.6" fill="#fff" stroke="#000" stroke-width="1.4"/><ellipse cx="131.8" cy="414.3" rx="5.4" ry="4.4" fill="#fff" stroke="#000" stroke-width="2.3"/><ellipse cx="131.8" cy="415.5" rx="3.8" ry="2.6" fill="#fff" stroke="#000" stroke-width="1.4"/></g>
<g><polygon points="21.0,486.3 21.1,485.4 21.5,484.7 22.2,484.1 57.4,461.8 71.4,469.8 71.4,480.8 36.2,503.1 35.2,503.6 34.0,503.8 32.7,503.9 31.2,503.8 29.6,503.6 28.0,503.1 26.4,502.5 25.0,501.8 23.7,500.9 22.6,500.0 21.8,499.1 21.3,498.2 21.0,497.3" fill="#fff" stroke="#000" stroke-width="2.7" stroke-linejoin="round"/><polygon points="36.2,492.1 71.4,469.8 57.4,461.8 22.2,484.1 21.5,484.7 21.1,485.4 21.0,486.3 21.3,487.2 21.8,488.1 22.6,489.0 23.7,489.9 25.0,490.8 26.4,491.5 28.0,492.1 29.6,492.5 31.2,492.8 32.7,492.9 34.1,492.8 35.2,492.5" fill="#fff" stroke="#000" stroke-width="2.0" stroke-linejoin="round"/><line x1="36.2" y1="492.1" x2="36.2" y2="503.1" stroke="#000" stroke-width="1.6"/><line x1="30.9" y1="491.8" x2="30.9" y2="502.1" stroke="#000" stroke-width="0.9"/><line x1="25.6" y1="491.4" x2="25.6" y2="502.1" stroke="#000" stroke-width="0.9"/><ellipse cx="35.8" cy="484.1" rx="5.4" ry="4.4" fill="#fff" stroke="#000" stroke-width="2.3"/><ellipse cx="35.8" cy="485.3" rx="3.8" ry="2.6" fill="#fff" stroke="#000" stroke-width="1.4"/><ellipse cx="57.4" cy="470.9" rx="5.4" ry="4.4" fill="#fff" stroke="#000" stroke-width="2.3"/><ellipse cx="57.4" cy="472.1" rx="3.8" ry="2.6" fill="#fff" stroke="#000" stroke-width="1.4"/></g>
<g><polygon points="304.3,568.4 304.4,567.6 304.8,566.9 305.5,566.3 341.5,544.8 355.9,553.2 355.9,564.4 319.9,585.9 318.9,586.3 317.7,586.6 316.3,586.6 314.8,586.5 313.1,586.2 311.5,585.7 309.9,585.0 308.4,584.3 307.1,583.4 306.0,582.5 305.1,581.5 304.6,580.5 304.3,579.6" fill="#fff" stroke="#000" stroke-width="2.7" stroke-linejoin="round"/><polygon points="319.9,574.7 355.9,553.2 341.5,544.8 305.5,566.3 304.8,566.9 304.4,567.6 304.3,568.4 304.6,569.3 305.1,570.3 306.0,571.3 307.1,572.2 308.4,573.1 309.9,573.8 311.5,574.5 313.1,575.0 314.8,575.3 316.3,575.4 317.7,575.4 318.9,575.1" fill="#fff" stroke="#000" stroke-width="2.0" stroke-linejoin="round"/><line x1="319.9" y1="574.7" x2="319.9" y2="585.9" stroke="#000" stroke-width="1.6"/><line x1="314.4" y1="574.4" x2="314.4" y2="584.9" stroke="#000" stroke-width="0.9"/><line x1="309.0" y1="574.0" x2="309.0" y2="584.9" stroke="#000" stroke-width="0.9"/><ellipse cx="319.9" cy="567.5" rx="5.4" ry="4.4" fill="#fff" stroke="#000" stroke-width="2.3"/><ellipse cx="319.9" cy="568.7" rx="3.8" ry="2.6" fill="#fff" stroke="#000" stroke-width="1.4"/><ellipse cx="340.8" cy="554.7" rx="5.4" ry="4.4" fill="#fff" stroke="#000" stroke-width="2.3"/><ellipse cx="340.8" cy="555.9" rx="3.8" ry="2.6" fill="#fff" stroke="#000" stroke-width="1.4"/></g>
<g><polygon points="405.9,505.5 436.0,487.9 437.0,487.5 438.2,487.2 439.6,487.2 441.1,487.3 442.7,487.6 444.3,488.1 445.8,488.8 447.3,489.5 448.5,490.4 449.6,491.3 450.4,492.3 450.9,493.2 451.1,494.1 451.1,504.9 451.0,505.7 450.6,506.4 449.9,507.0 419.8,524.6 405.9,516.3" fill="#fff" stroke="#000" stroke-width="2.7" stroke-linejoin="round"/><polygon points="405.9,505.5 419.8,513.8 449.9,496.2 450.6,495.6 451.0,494.9 451.1,494.1 450.9,493.2 450.4,492.3 449.6,491.3 448.5,490.4 447.3,489.5 445.8,488.8 444.3,488.1 442.7,487.6 441.1,487.3 439.6,487.2 438.2,487.3 437.0,487.5 436.0,487.9" fill="#fff" stroke="#000" stroke-width="2.0" stroke-linejoin="round"/><line x1="419.8" y1="513.8" x2="419.8" y2="524.6" stroke="#000" stroke-width="1.6"/><ellipse cx="419.5" cy="505.5" rx="5.4" ry="4.4" fill="#fff" stroke="#000" stroke-width="2.3"/><ellipse cx="419.5" cy="506.7" rx="3.8" ry="2.6" fill="#fff" stroke="#000" stroke-width="1.4"/><ellipse cx="440.6" cy="493.0" rx="5.4" ry="4.4" fill="#fff" stroke="#000" stroke-width="2.3"/><ellipse cx="440.6" cy="494.2" rx="3.8" ry="2.6" fill="#fff" stroke="#000" stroke-width="1.4"/></g>
<g><path d="M432.6,64.9 L435.9,62.4 L444.1,62.4 L447.4,64.9 L447.4,70.1 L444.1,71.6 L435.9,71.6 L432.6,70.1 Z" fill="#fff" stroke="#000" stroke-width="1.7" stroke-linejoin="round"/><path d="M433.1,65.9 Q440.0,68.4 446.9,65.9" fill="none" stroke="#000" stroke-width="1.1"/><line x1="436.7" y1="67.2" x2="436.7" y2="71.6" stroke="#000" stroke-width="0.9"/><line x1="443.3" y1="67.2" x2="443.3" y2="71.6" stroke="#000" stroke-width="0.9"/><path d="M435.3,71.6 L435.3,91.6 Q440.0,94.6 444.7,91.6 L444.7,71.6" fill="#fff" stroke="#000" stroke-width="1.6"/><path d="M435.3,74.1 Q440.0,76.1 444.7,74.1" fill="none" stroke="#000" stroke-width="1.0"/><path d="M436.1,76.6 Q440.0,78.2 443.9,76.6" fill="none" stroke="#000" stroke-width="1.1"/><path d="M436.1,78.7 Q440.0,80.3 443.9,78.7" fill="none" stroke="#000" stroke-width="1.1"/><path d="M436.1,80.8 Q440.0,82.4 443.9,80.8" fill="none" stroke="#000" stroke-width="1.1"/><path d="M436.1,82.9 Q440.0,84.5 443.9,82.9" fill="none" stroke="#000" stroke-width="1.1"/><path d="M436.1,85.0 Q440.0,86.6 443.9,85.0" fill="none" stroke="#000" stroke-width="1.1"/><path d="M436.1,87.1 Q440.0,88.7 443.9,87.1" fill="none" stroke="#000" stroke-width="1.1"/><path d="M436.1,89.2 Q440.0,90.8 443.9,89.2" fill="none" stroke="#000" stroke-width="1.1"/><path d="M436.5,89.6 Q440.0,92.1 443.5,89.6" fill="none" stroke="#000" stroke-width="0.8"/></g>
<g><path d="M178.2,287.5 L181.5,285.0 L189.7,285.0 L193.0,287.5 L193.0,292.5 L189.7,294.0 L181.5,294.0 L178.2,292.5 Z" fill="#fff" stroke="#000" stroke-width="1.7" stroke-linejoin="round"/><path d="M178.7,288.5 Q185.6,291.0 192.5,288.5" fill="none" stroke="#000" stroke-width="1.1"/><line x1="182.3" y1="289.8" x2="182.3" y2="294.0" stroke="#000" stroke-width="0.9"/><line x1="188.9" y1="289.8" x2="188.9" y2="294.0" stroke="#000" stroke-width="0.9"/><path d="M180.9,294.0 L180.9,314.0 Q185.6,317.0 190.3,314.0 L190.3,294.0" fill="#fff" stroke="#000" stroke-width="1.6"/><path d="M180.9,296.5 Q185.6,298.5 190.3,296.5" fill="none" stroke="#000" stroke-width="1.0"/><path d="M181.7,299.0 Q185.6,300.6 189.5,299.0" fill="none" stroke="#000" stroke-width="1.1"/><path d="M181.7,301.1 Q185.6,302.7 189.5,301.1" fill="none" stroke="#000" stroke-width="1.1"/><path d="M181.7,303.2 Q185.6,304.8 189.5,303.2" fill="none" stroke="#000" stroke-width="1.1"/><path d="M181.7,305.3 Q185.6,306.9 189.5,305.3" fill="none" stroke="#000" stroke-width="1.1"/><path d="M181.7,307.4 Q185.6,309.0 189.5,307.4" fill="none" stroke="#000" stroke-width="1.1"/><path d="M181.7,309.5 Q185.6,311.1 189.5,309.5" fill="none" stroke="#000" stroke-width="1.1"/><path d="M181.7,311.6 Q185.6,313.2 189.5,311.6" fill="none" stroke="#000" stroke-width="1.1"/><path d="M182.1,312.0 Q185.6,314.5 189.1,312.0" fill="none" stroke="#000" stroke-width="0.8"/></g>
<g><path d="M437.5,118.7 L435.9,118.3 L434.5,117.6 L433.3,116.6 L432.5,115.4 L432.0,114.1 L431.9,112.7 L432.3,111.4 L433.0,110.1 L434.1,109.1 L435.5,108.3 L437.0,107.8 L438.7,107.6 L440.4,107.8 L441.9,108.3 L443.3,109.1 L444.4,110.1 L445.1,111.4 L445.5,112.7 L445.4,114.1 L444.9,115.4 L444.1,116.6 L442.9,117.6 L441.5,118.3 L439.9,118.7" fill="#fff" stroke="#000" stroke-width="1.7" stroke-linecap="round"/><path d="M433.4,110.9 L433.7,110.3 L434.4,109.7 L435.2,109.2 L436.3,108.8 L437.5,108.6 L438.7,108.5 L439.9,108.6 L441.1,108.8 L442.2,109.2 L443.0,109.7 L443.7,110.3 L444.0,110.9" fill="none" stroke="#000" stroke-width="1.6"/><path d="M437.5,116.5 L436.6,115.9 L436.0,115.1 L435.8,114.2 L435.9,113.3 L436.4,112.4 L437.1,111.7 L438.1,111.3 L439.2,111.1 L440.3,111.3 L441.3,111.7 L442.0,112.4 L442.5,113.3 L442.6,114.2 L442.4,115.1 L441.8,115.9 L440.9,116.5" fill="none" stroke="#000" stroke-width="1.3"/><path d="M437.5,115.4 L437.2,119.0 M440.3,115.4 L440.2,119.0" fill="none" stroke="#000" stroke-width="1.2"/></g>
<g><path d="M183.4,341.3 L181.8,340.9 L180.4,340.3 L179.2,339.3 L178.3,338.2 L177.8,336.9 L177.8,335.6 L178.1,334.4 L178.9,333.2 L180.0,332.2 L181.3,331.4 L182.9,331.0 L184.6,330.8 L186.3,331.0 L187.9,331.4 L189.2,332.2 L190.3,333.2 L191.1,334.4 L191.4,335.6 L191.4,336.9 L190.9,338.2 L190.0,339.3 L188.8,340.3 L187.4,340.9 L185.8,341.3" fill="#fff" stroke="#000" stroke-width="1.7" stroke-linecap="round"/><path d="M179.2,333.8 L179.6,333.2 L180.2,332.7 L181.1,332.2 L182.2,331.8 L183.3,331.6 L184.6,331.6 L185.9,331.6 L187.0,331.8 L188.1,332.2 L189.0,332.7 L189.6,333.2 L190.0,333.8" fill="none" stroke="#000" stroke-width="1.6"/><path d="M183.4,339.3 L182.5,338.7 L181.9,338.0 L181.7,337.1 L181.8,336.2 L182.2,335.4 L183.0,334.7 L184.0,334.3 L185.1,334.2 L186.2,334.3 L187.2,334.7 L188.0,335.4 L188.4,336.2 L188.5,337.1 L188.3,338.0 L187.7,338.7 L186.8,339.3" fill="none" stroke="#000" stroke-width="1.3"/><path d="M183.4,338.2 L183.1,341.6 M186.2,338.2 L186.1,341.6" fill="none" stroke="#000" stroke-width="1.2"/></g>
<g><ellipse cx="439.2" cy="139.9" rx="8.9" ry="6.0" fill="#fff" stroke="#000" stroke-width="1.8"/><path d="M433.3,142.4 L432.5,141.3 L432.3,140.1 L432.5,138.9 L433.3,137.8 L434.4,136.8 L435.9,136.1 L437.6,135.7 L439.5,135.5 L441.4,135.7 L443.1,136.1 L444.6,136.8 L445.7,137.8 L446.5,138.9 L446.7,140.1 L446.5,141.3 L445.7,142.4" fill="none" stroke="#000" stroke-width="0.9"/><ellipse cx="439.5" cy="140.7" rx="5.1" ry="2.9" fill="#fff" stroke="#000" stroke-width="1.3"/><ellipse cx="439.5" cy="140.9" rx="2.5" ry="1.2" fill="#000" stroke="none"/></g>
<g><ellipse cx="185.6" cy="363.2" rx="9.3" ry="6.3" fill="#fff" stroke="#000" stroke-width="1.8"/><path d="M179.3,365.8 L178.6,364.7 L178.3,363.4 L178.6,362.1 L179.3,360.9 L180.5,359.9 L182.1,359.2 L183.9,358.7 L185.9,358.5 L187.9,358.7 L189.7,359.2 L191.3,359.9 L192.5,360.9 L193.2,362.1 L193.5,363.4 L193.2,364.7 L192.5,365.8" fill="none" stroke="#000" stroke-width="0.9"/><ellipse cx="185.9" cy="364.0" rx="5.3" ry="3.0" fill="#fff" stroke="#000" stroke-width="1.3"/><ellipse cx="185.9" cy="364.2" rx="2.7" ry="1.3" fill="#000" stroke="none"/></g>
<g><path d="M762.4,197.4 A8.5,4.9 0 0 1 779.4,197.4 L779.4,201.0 A8.5,4.9 0 0 1 762.4,201.0 Z" fill="#fff" stroke="#000" stroke-width="2"/><path d="M778.7,198.1 L778.3,199.0 L777.5,199.8 L776.6,200.5 L775.4,201.0 L774.0,201.5 L772.5,201.7 L770.9,201.8 L769.3,201.7 L767.8,201.5 L766.4,201.0 L765.2,200.5 L764.3,199.8 L763.5,199.0 L763.1,198.1" fill="none" stroke="#000" stroke-width="1.4"/><polygon points="771.7,195.7 773.5,191.2 778.6,193.3 773.2,196.3" fill="#fff" stroke="none"/><path d="M771.7,195.7 L773.1,192.7 M773.2,196.3 L777.4,194.2" stroke="#000" stroke-width="1.5" fill="none" stroke-linecap="round"/><ellipse cx="770.6" cy="197.6" rx="2.5" ry="1.7" fill="#fff" stroke="#000" stroke-width="1.3"/><path d="M775.1,196.1 L775.6,196.8 L775.8,197.6 L775.6,198.4 L775.0,199.2 L774.1,199.8 L773.0,200.3 L771.7,200.5 L770.3,200.6 L769.0,200.4 L767.7,200.0 L766.7,199.5 L766.0,198.8 L765.6,198.0 L765.6,197.2 L766.0,196.4 L766.7,195.7 L767.7,195.1 L769.0,194.7" fill="none" stroke="#000" stroke-width="1.3"/></g>
<g><path d="M556.0,339.1 A9.0,5.4 0 0 1 574.0,339.1 L574.0,343.1 A9.0,5.4 0 0 1 556.0,343.1 Z" fill="#fff" stroke="#000" stroke-width="2"/><path d="M573.3,340.0 L572.8,340.9 L572.1,341.8 L571.0,342.6 L569.7,343.2 L568.3,343.7 L566.7,344.0 L565.0,344.1 L563.3,344.0 L561.7,343.7 L560.3,343.2 L559.0,342.6 L557.9,341.8 L557.2,340.9 L556.7,340.0" fill="none" stroke="#000" stroke-width="1.4"/><polygon points="565.8,337.3 567.7,332.4 573.0,334.7 567.4,337.9" fill="#fff" stroke="none"/><path d="M565.8,337.3 L567.3,333.9 M567.4,337.9 L571.9,335.6" stroke="#000" stroke-width="1.5" fill="none" stroke-linecap="round"/><ellipse cx="564.7" cy="339.3" rx="2.7" ry="1.8" fill="#fff" stroke="#000" stroke-width="1.3"/><path d="M569.5,337.6 L570.0,338.5 L570.2,339.4 L570.0,340.3 L569.4,341.1 L568.4,341.8 L567.2,342.3 L565.8,342.6 L564.4,342.6 L563.0,342.4 L561.7,342.0 L560.6,341.4 L559.8,340.6 L559.4,339.8 L559.4,338.8 L559.8,338.0 L560.6,337.2 L561.7,336.6 L563.0,336.2" fill="none" stroke="#000" stroke-width="1.3"/></g>
<g><path d="M819.2,340.6 A9.2,4.5 0 0 1 837.6,340.6 L837.6,344.0 A9.2,4.5 0 0 1 819.2,344.0 Z" fill="#fff" stroke="#000" stroke-width="2"/><path d="M836.9,341.3 L836.4,342.1 L835.6,342.8 L834.6,343.5 L833.2,344.0 L831.7,344.4 L830.1,344.6 L828.4,344.7 L826.7,344.6 L825.1,344.4 L823.6,344.0 L822.2,343.5 L821.2,342.8 L820.4,342.1 L819.9,341.3" fill="none" stroke="#000" stroke-width="1.4"/><polygon points="829.2,339.1 831.2,334.8 836.6,336.7 830.9,339.6" fill="#fff" stroke="none"/><path d="M829.2,339.1 L830.8,336.3 M830.9,339.6 L835.4,337.7" stroke="#000" stroke-width="1.5" fill="none" stroke-linecap="round"/><ellipse cx="828.1" cy="340.8" rx="2.8" ry="1.5" fill="#fff" stroke="#000" stroke-width="1.3"/><path d="M833.0,339.4 L833.5,340.1 L833.7,340.9 L833.5,341.6 L832.9,342.3 L831.9,342.9 L830.7,343.3 L829.3,343.5 L827.8,343.6 L826.3,343.4 L825.0,343.1 L823.9,342.6 L823.1,341.9 L822.7,341.2 L822.7,340.4 L823.1,339.7 L823.9,339.0 L825.0,338.5 L826.3,338.2" fill="none" stroke="#000" stroke-width="1.3"/></g>
<g><path d="M645.8,461.3 A8.5,5.2 0 0 1 662.8,461.3 L662.8,465.2 A8.5,5.2 0 0 1 645.8,465.2 Z" fill="#fff" stroke="#000" stroke-width="2"/><path d="M662.1,462.2 L661.7,463.1 L660.9,463.9 L660.0,464.7 L658.8,465.3 L657.4,465.8 L655.9,466.0 L654.3,466.1 L652.7,466.0 L651.2,465.8 L649.8,465.3 L648.6,464.7 L647.7,463.9 L646.9,463.1 L646.5,462.2" fill="none" stroke="#000" stroke-width="1.4"/><polygon points="655.1,459.6 656.9,454.8 662.0,457.0 656.6,460.1" fill="#fff" stroke="none"/><path d="M655.1,459.6 L656.5,456.3 M656.6,460.1 L660.8,458.0" stroke="#000" stroke-width="1.5" fill="none" stroke-linecap="round"/><ellipse cx="654.0" cy="461.5" rx="2.5" ry="1.8" fill="#fff" stroke="#000" stroke-width="1.3"/><path d="M658.5,459.9 L659.0,460.7 L659.2,461.6 L659.0,462.4 L658.4,463.2 L657.5,463.9 L656.4,464.4 L655.1,464.7 L653.7,464.7 L652.4,464.6 L651.1,464.2 L650.1,463.6 L649.4,462.8 L649.0,462.0 L649.0,461.1 L649.4,460.2 L650.1,459.5 L651.1,458.9 L652.4,458.5" fill="none" stroke="#000" stroke-width="1.3"/></g>
<g><path d="M434.5,639.8 A8.5,5.0 0 0 1 451.5,639.8 L451.5,643.6 A8.5,5.0 0 0 1 434.5,643.6 Z" fill="#fff" stroke="#000" stroke-width="2"/><path d="M450.8,640.6 L450.4,641.5 L449.6,642.4 L448.7,643.1 L447.5,643.7 L446.1,644.1 L444.6,644.4 L443.0,644.5 L441.4,644.4 L439.9,644.1 L438.5,643.7 L437.3,643.1 L436.4,642.4 L435.6,641.5 L435.2,640.6" fill="none" stroke="#000" stroke-width="1.4"/><polygon points="443.8,638.1 445.6,633.5 450.7,635.6 445.3,638.7" fill="#fff" stroke="none"/><path d="M443.8,638.1 L445.2,635.0 M445.3,638.7 L449.5,636.6" stroke="#000" stroke-width="1.5" fill="none" stroke-linecap="round"/><ellipse cx="442.7" cy="640.0" rx="2.5" ry="1.7" fill="#fff" stroke="#000" stroke-width="1.3"/><path d="M447.2,638.5 L447.7,639.3 L447.9,640.1 L447.7,640.9 L447.1,641.7 L446.2,642.4 L445.1,642.8 L443.8,643.1 L442.4,643.2 L441.1,643.0 L439.8,642.6 L438.8,642.0 L438.1,641.3 L437.7,640.5 L437.7,639.6 L438.1,638.8 L438.8,638.1 L439.8,637.5 L441.1,637.1" fill="none" stroke="#000" stroke-width="1.3"/></g>
<g><path d="M309.0,667.8 A9.0,5.0 0 0 1 327.0,667.8 L327.0,671.6 A9.0,5.0 0 0 1 309.0,671.6 Z" fill="#fff" stroke="#000" stroke-width="2"/><path d="M326.3,668.6 L325.8,669.5 L325.1,670.4 L324.0,671.1 L322.7,671.7 L321.3,672.1 L319.7,672.4 L318.0,672.5 L316.3,672.4 L314.7,672.1 L313.3,671.7 L312.0,671.1 L310.9,670.4 L310.2,669.5 L309.7,668.6" fill="none" stroke="#000" stroke-width="1.4"/><polygon points="318.8,666.1 320.7,661.5 326.0,663.6 320.4,666.7" fill="#fff" stroke="none"/><path d="M318.8,666.1 L320.3,663.0 M320.4,666.7 L324.9,664.6" stroke="#000" stroke-width="1.5" fill="none" stroke-linecap="round"/><ellipse cx="317.7" cy="668.0" rx="2.7" ry="1.7" fill="#fff" stroke="#000" stroke-width="1.3"/><path d="M322.5,666.5 L323.0,667.3 L323.2,668.1 L323.0,668.9 L322.4,669.7 L321.4,670.4 L320.2,670.8 L318.8,671.1 L317.4,671.2 L316.0,671.0 L314.7,670.6 L313.6,670.0 L312.8,669.3 L312.4,668.5 L312.4,667.6 L312.8,666.8 L313.6,666.1 L314.7,665.5 L316.0,665.1" fill="none" stroke="#000" stroke-width="1.3"/></g>
<g><path d="M765.0,235.0 L765.0,211.0 Q771.0,208.0 777.0,211.0 L777.0,235.0" fill="#fff" stroke="#000" stroke-width="1.8"/><ellipse cx="771.0" cy="211.2" rx="3.3" ry="1.6" fill="none" stroke="#000" stroke-width="1.1"/><path d="M765.5,213.5 Q771.0,216.9 776.5,213.5" fill="none" stroke="#000" stroke-width="1.9"/><path d="M765.5,217.9 Q771.0,221.3 776.5,217.9" fill="none" stroke="#000" stroke-width="1.9"/><path d="M765.5,222.3 Q771.0,225.7 776.5,222.3" fill="none" stroke="#000" stroke-width="1.9"/><path d="M765.5,226.7 Q771.0,230.1 776.5,226.7" fill="none" stroke="#000" stroke-width="1.9"/><path d="M760.3,235.5 Q760.3,232.5 765.6,232.0 L776.4,232.0 Q781.7,232.5 781.7,235.5 L781.7,245.0 L776.9,248.0 L765.1,248.0 L760.3,245.0 Z" fill="#fff" stroke="#000" stroke-width="2"/><path d="M760.3,235.5 Q771.0,239.5 781.7,235.5" fill="none" stroke="#000" stroke-width="1.3"/><line x1="765.6" y1="237.3" x2="765.6" y2="248.0" stroke="#000" stroke-width="1.3"/><line x1="777.4" y1="237.0" x2="777.4" y2="247.5" stroke="#000" stroke-width="1.3"/></g>
<g><path d="M559.0,375.5 L559.0,353.5 Q565.0,350.5 571.0,353.5 L571.0,375.5" fill="#fff" stroke="#000" stroke-width="1.8"/><ellipse cx="565.0" cy="353.7" rx="3.3" ry="1.6" fill="none" stroke="#000" stroke-width="1.1"/><path d="M559.5,356.0 Q565.0,359.4 570.5,356.0" fill="none" stroke="#000" stroke-width="1.9"/><path d="M559.5,360.4 Q565.0,363.8 570.5,360.4" fill="none" stroke="#000" stroke-width="1.9"/><path d="M559.5,364.8 Q565.0,368.2 570.5,364.8" fill="none" stroke="#000" stroke-width="1.9"/><path d="M559.5,369.2 Q565.0,372.6 570.5,369.2" fill="none" stroke="#000" stroke-width="1.9"/><path d="M554.2,376.0 Q554.2,373.0 559.6,372.5 L570.4,372.5 Q575.8,373.0 575.8,376.0 L575.8,385.0 L570.9,388.0 L559.1,388.0 L554.2,385.0 Z" fill="#fff" stroke="#000" stroke-width="2"/><path d="M554.2,376.0 Q565.0,380.0 575.8,376.0" fill="none" stroke="#000" stroke-width="1.3"/><line x1="559.6" y1="377.8" x2="559.6" y2="388.0" stroke="#000" stroke-width="1.3"/><line x1="571.5" y1="377.5" x2="571.5" y2="387.5" stroke="#000" stroke-width="1.3"/></g>
<g><path d="M822.8,375.0 L822.8,354.0 Q828.8,351.0 834.8,354.0 L834.8,375.0" fill="#fff" stroke="#000" stroke-width="1.8"/><ellipse cx="828.8" cy="354.2" rx="3.3" ry="1.6" fill="none" stroke="#000" stroke-width="1.1"/><path d="M823.3,356.5 Q828.8,359.9 834.3,356.5" fill="none" stroke="#000" stroke-width="1.9"/><path d="M823.3,360.9 Q828.8,364.3 834.3,360.9" fill="none" stroke="#000" stroke-width="1.9"/><path d="M823.3,365.3 Q828.8,368.7 834.3,365.3" fill="none" stroke="#000" stroke-width="1.9"/><path d="M823.3,369.7 Q828.8,373.1 834.3,369.7" fill="none" stroke="#000" stroke-width="1.9"/><path d="M817.9,375.5 Q817.9,372.5 823.3,372.0 L834.2,372.0 Q839.7,372.5 839.7,375.5 L839.7,385.8 L834.8,388.8 L822.8,388.8 L817.9,385.8 Z" fill="#fff" stroke="#000" stroke-width="2"/><path d="M817.9,375.5 Q828.8,379.5 839.7,375.5" fill="none" stroke="#000" stroke-width="1.3"/><line x1="823.3" y1="377.3" x2="823.3" y2="388.8" stroke="#000" stroke-width="1.3"/><line x1="835.3" y1="377.0" x2="835.3" y2="388.3" stroke="#000" stroke-width="1.3"/></g>
<g><path d="M648.3,499.2 L648.3,475.9 Q654.3,472.9 660.3,475.9 L660.3,499.2" fill="#fff" stroke="#000" stroke-width="1.8"/><ellipse cx="654.3" cy="476.1" rx="3.3" ry="1.6" fill="none" stroke="#000" stroke-width="1.1"/><path d="M648.8,478.4 Q654.3,481.8 659.8,478.4" fill="none" stroke="#000" stroke-width="1.9"/><path d="M648.8,482.8 Q654.3,486.2 659.8,482.8" fill="none" stroke="#000" stroke-width="1.9"/><path d="M648.8,487.2 Q654.3,490.6 659.8,487.2" fill="none" stroke="#000" stroke-width="1.9"/><path d="M648.8,491.6 Q654.3,495.0 659.8,491.6" fill="none" stroke="#000" stroke-width="1.9"/><path d="M643.6,499.7 Q643.6,496.7 648.9,496.2 L659.6,496.2 Q665.0,496.7 665.0,499.7 L665.0,508.2 L660.2,511.2 L648.4,511.2 L643.6,508.2 Z" fill="#fff" stroke="#000" stroke-width="2"/><path d="M643.6,499.7 Q654.3,503.7 665.0,499.7" fill="none" stroke="#000" stroke-width="1.3"/><line x1="648.9" y1="501.5" x2="648.9" y2="511.2" stroke="#000" stroke-width="1.3"/><line x1="660.7" y1="501.2" x2="660.7" y2="510.7" stroke="#000" stroke-width="1.3"/></g>
<g><path d="M437.8,676.0 L437.8,654.0 Q443.8,651.0 449.8,654.0 L449.8,676.0" fill="#fff" stroke="#000" stroke-width="1.8"/><ellipse cx="443.8" cy="654.2" rx="3.3" ry="1.6" fill="none" stroke="#000" stroke-width="1.1"/><path d="M438.3,656.5 Q443.8,659.9 449.3,656.5" fill="none" stroke="#000" stroke-width="1.9"/><path d="M438.3,660.9 Q443.8,664.3 449.3,660.9" fill="none" stroke="#000" stroke-width="1.9"/><path d="M438.3,665.3 Q443.8,668.7 449.3,665.3" fill="none" stroke="#000" stroke-width="1.9"/><path d="M438.3,669.7 Q443.8,673.1 449.3,669.7" fill="none" stroke="#000" stroke-width="1.9"/><path d="M433.3,676.5 Q433.3,673.5 438.6,673.0 L449.1,673.0 Q454.3,673.5 454.3,676.5 L454.3,686.0 L449.6,689.0 L438.0,689.0 L433.3,686.0 Z" fill="#fff" stroke="#000" stroke-width="2"/><path d="M433.3,676.5 Q443.8,680.5 454.3,676.5" fill="none" stroke="#000" stroke-width="1.3"/><line x1="438.6" y1="678.3" x2="438.6" y2="689.0" stroke="#000" stroke-width="1.3"/><line x1="450.1" y1="678.0" x2="450.1" y2="688.5" stroke="#000" stroke-width="1.3"/></g>
<g><path d="M312.2,704.0 L312.2,681.0 Q318.2,678.0 324.2,681.0 L324.2,704.0" fill="#fff" stroke="#000" stroke-width="1.8"/><ellipse cx="318.2" cy="681.2" rx="3.3" ry="1.6" fill="none" stroke="#000" stroke-width="1.1"/><path d="M312.7,683.5 Q318.2,686.9 323.7,683.5" fill="none" stroke="#000" stroke-width="1.9"/><path d="M312.7,687.9 Q318.2,691.3 323.7,687.9" fill="none" stroke="#000" stroke-width="1.9"/><path d="M312.7,692.3 Q318.2,695.7 323.7,692.3" fill="none" stroke="#000" stroke-width="1.9"/><path d="M312.7,696.7 Q318.2,700.1 323.7,696.7" fill="none" stroke="#000" stroke-width="1.9"/><path d="M307.6,704.5 Q307.6,701.5 312.9,701.0 L323.5,701.0 Q328.8,701.5 328.8,704.5 L328.8,714.0 L324.0,717.0 L312.4,717.0 L307.6,714.0 Z" fill="#fff" stroke="#000" stroke-width="2"/><path d="M307.6,704.5 Q318.2,708.5 328.8,704.5" fill="none" stroke="#000" stroke-width="1.3"/><line x1="312.9" y1="706.3" x2="312.9" y2="717.0" stroke="#000" stroke-width="1.3"/><line x1="324.6" y1="706.0" x2="324.6" y2="716.5" stroke="#000" stroke-width="1.3"/></g>
<line x1="446.3" y1="77.8" x2="473.5" y2="62.4" stroke="#000" stroke-width="1.8" stroke-linecap="round"/>
<line x1="446" y1="110" x2="473" y2="106" stroke="#000" stroke-width="1.8" stroke-linecap="round"/>
<line x1="448" y1="140" x2="473" y2="131" stroke="#000" stroke-width="1.8" stroke-linecap="round"/>
<line x1="191.8" y1="300" x2="219.8" y2="284.2" stroke="#000" stroke-width="1.8" stroke-linecap="round"/>
<line x1="192" y1="333" x2="219.5" y2="329" stroke="#000" stroke-width="1.8" stroke-linecap="round"/>
<line x1="194" y1="363" x2="219.5" y2="353" stroke="#000" stroke-width="1.8" stroke-linecap="round"/>
<line x1="701.8" y1="21.9" x2="752.3" y2="32.7" stroke="#000" stroke-width="1.8" stroke-linecap="round"/>
<line x1="692.7" y1="75.7" x2="695" y2="133" stroke="#000" stroke-width="1.8" stroke-linecap="round"/>
<line x1="595.9" y1="92.4" x2="595.5" y2="147.8" stroke="#000" stroke-width="1.8" stroke-linecap="round"/>
<line x1="797.2" y1="162.2" x2="773" y2="198" stroke="#000" stroke-width="1.8" stroke-linecap="round"/>
<line x1="800.8" y1="206" x2="777.6" y2="227.5" stroke="#000" stroke-width="1.8" stroke-linecap="round"/>
<line x1="865.2" y1="217.6" x2="829.4" y2="224.8" stroke="#000" stroke-width="1.8" stroke-linecap="round"/>
<line x1="734" y1="278.5" x2="734.8" y2="301.9" stroke="#000" stroke-width="1.8" stroke-linecap="round"/>
<line x1="678.7" y1="308.6" x2="663.7" y2="318.6" stroke="#000" stroke-width="1.8" stroke-linecap="round"/>
<line x1="854.6" y1="331.4" x2="837.6" y2="340.3" stroke="#000" stroke-width="1.8" stroke-linecap="round"/>
<line x1="855.1" y1="366.6" x2="839.3" y2="366.6" stroke="#000" stroke-width="1.8" stroke-linecap="round"/>
<line x1="683.3" y1="455.7" x2="662.4" y2="462.3" stroke="#000" stroke-width="1.8" stroke-linecap="round"/>
<line x1="683.3" y1="485.4" x2="660.2" y2="492" stroke="#000" stroke-width="1.8" stroke-linecap="round"/>
<line x1="116.7" y1="383" x2="116.7" y2="414.7" stroke="#000" stroke-width="1.8" stroke-linecap="round"/>
<line x1="39.5" y1="438.4" x2="39.5" y2="472.4" stroke="#000" stroke-width="1.8" stroke-linecap="round"/>
<line x1="156" y1="576.7" x2="168.7" y2="583.7" stroke="#000" stroke-width="1.8" stroke-linecap="round"/>
<line x1="324.6" y1="522.3" x2="324.6" y2="556.2" stroke="#000" stroke-width="1.8" stroke-linecap="round"/>
<line x1="424.9" y1="461.6" x2="424.9" y2="492" stroke="#000" stroke-width="1.8" stroke-linecap="round"/>
<line x1="247.2" y1="629" x2="289.9" y2="628" stroke="#000" stroke-width="1.8" stroke-linecap="round"/>
<line x1="413.4" y1="653.7" x2="434.5" y2="645" stroke="#000" stroke-width="1.8" stroke-linecap="round"/>
<line x1="412.4" y1="685.8" x2="434.5" y2="682.2" stroke="#000" stroke-width="1.8" stroke-linecap="round"/>
<path d="M488.0,66.2 L488.0,50.2 M488.3,50.0 L482.6,54.2" fill="none" stroke="#000" stroke-width="2.2" stroke-linecap="round" stroke-linejoin="round"/>
<path d="M233.6,289.3 L233.6,272.6 M233.9,272.4 L228.4,276.4" fill="none" stroke="#000" stroke-width="2.2" stroke-linecap="round" stroke-linejoin="round"/>
<path d="M181.2,593.4 L181.2,577.5 M181.5,577.3 L175.8,581.0" fill="none" stroke="#000" stroke-width="2.2" stroke-linecap="round" stroke-linejoin="round"/>
<g filter="url(#nf)"><text x="480" y="115">2</text><text x="480" y="141.5">3</text><text x="226" y="336.5">2</text><text x="226" y="364">3</text><text x="680" y="29">4</text><text x="686.4" y="68.3">5</text><text x="586" y="86">4</text><text x="802.5" y="159.5">6</text><text x="804.3" y="206">7</text><text x="872.3" y="225.8">4</text><text x="724.6" y="274.4">8</text><text x="683.7" y="309.6">4</text><text x="859" y="340.5">6</text><text x="861.2" y="374.3">7</text><text x="690" y="458.9">6</text><text x="692.2" y="494">7</text><text x="109" y="376.9">4</text><text x="35.8" y="433.2">4</text><text x="187.4" y="595">0</text><text x="319.2" y="517.5">4</text><text x="420.9" y="455.5">4</text><text x="225.8" y="639.9">9</text><text x="391.3" y="668">6</text><text x="395.4" y="697">7</text></g>
</svg></body></html>
